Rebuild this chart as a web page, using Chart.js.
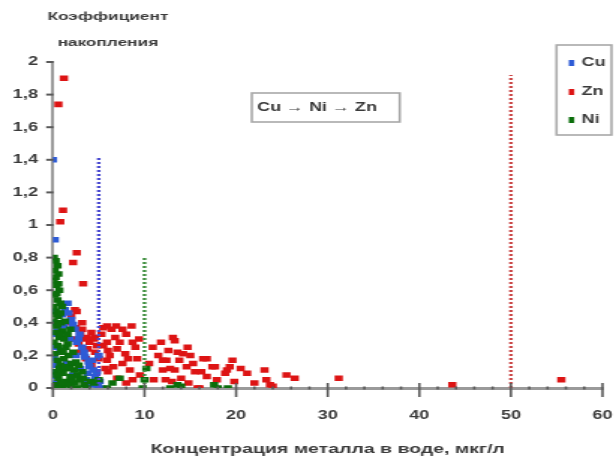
<!DOCTYPE html>
<html><head><meta charset="utf-8">
<script src="https://cdn.jsdelivr.net/npm/chart.js@4/dist/chart.umd.min.js"></script>
<style>html,body{margin:0;padding:0;background:#fff;overflow:hidden}
canvas{display:block}</style>
</head><body>
<canvas id="c" width="411" height="461" style="width:616px;height:461px"></canvas>
<script>
// ---- data ----
const seriesNames = ['Cu', 'Zn', 'Ni'];
const seriesColors = ['#2d5bd6', '#dd1414', '#0b6e0b'];

const cuX = [0.0,0.2,1.6,1.3,2.0,2.4,2.8,3.2,3.5,4.0,4.6,4.9,5.1,4.8,0.1,0.1,0.2,0.1,0.2,0.1,0.3,1.0,1.8,2.5,3.0,3.6,2.2,1.5,0.5,0.8,4.3,3.8,1.2,2.6,5.3,
  1.7,2.2,2.9,3.4,3.9,4.4,4.1,0.2,0.1,0.3,5.0];
const cuY = [1.40,0.91,0.52,0.48,0.42,0.36,0.30,0.25,0.19,0.13,0.07,0.01,0.04,0.10,0.40,0.33,0.25,0.18,0.10,0.03,0.00,0.45,0.30,0.20,0.12,0.05,0.08,0.15,0.35,0.22,0.17,0.09,0.38,0.28,0.00,
  0.46,0.39,0.33,0.22,0.16,0.11,0.02,0.47,0.14,0.07,0.20];

const znX = [1.2,0.6,1.1,0.8,2.6,2.2,3.3,2.4,2.0,1.8,2.5,3.0,3.5,4.0,4.5,2.8,3.8,4.6,5.0,4.2,3.2,2.6,3.2,3.7,4.6,5.5,6.0,5.9,6.4,5.5,
  5.9,7.6,8.6,8.0,5.9,7.3,8.7,6.2,7.9,6.6,8.4,8.7,9.2,9.5,7.0,6.0,9.0,
  10.9,13.1,13.3,14.7,12.4,13.8,12.0,13.3,14.6,16.8,16.8,16.0,12.8,12.0,11.5,10.5,11.0,15.5,14.0,13.0,16.4,17.4,17.7,15.8,18.8,19.0,19.6,19.3,21.2,23.1,23.3,23.7,25.5,26.4,24.0,31.2,43.6,55.5,14.2,12.6,
  3.0,3.6,4.2,2.4,4.8,5.3,6.8,7.0,7.6,8.2,6.9,5.7,8.0,9.4,11.8,13.6,15.0,15.3,16.2,14.8,12.3,17.9,19.8,20.5,22.0];
const znY = [1.90,1.74,1.09,1.02,0.83,0.77,0.64,0.48,0.44,0.40,0.37,0.33,0.30,0.28,0.30,0.27,0.24,0.22,0.18,0.34,0.40,0.47,0.36,0.31,0.31,0.26,0.23,0.17,0.36,0.37,
  0.38,0.36,0.38,0.33,0.28,0.28,0.28,0.20,0.21,0.13,0.11,0.05,0.18,0.08,0.06,0.10,0.25,
  0.25,0.31,0.29,0.25,0.17,0.17,0.11,0.11,0.13,0.18,0.07,0.00,0.12,0.17,0.20,0.15,0.05,0.10,0.06,0.04,0.18,0.13,0.13,0.00,0.09,0.11,0.17,0.13,0.09,0.11,0.05,0.02,0.08,0.06,0.01,0.06,0.02,0.05,0.21,0.23,
  0.22,0.18,0.14,0.30,0.26,0.33,0.31,0.24,0.15,0.18,0.38,0.12,0.03,0.30,0.28,0.22,0.20,0.15,0.10,0.03,0.05,0.05,0.04,0.12,0.03];

const niX = [0.1,0.3,0.5,0.2,0.6,0.1,0.4,0.7,0.2,0.5,0.1,0.8,0.3,0.6,0.1,0.9,0.4,1.0,0.2,0.7,1.2,0.1,0.5,1.4,0.9,0.2,1.7,1.2,0.5,2.0,0.8,1.5,2.3,0.3,1.1,2.7,1.9,0.6,3.0,1.4,2.4,0.2,3.4,1.0,2.0,3.7,0.5,1.6,1.0,0.4,2.5,1.8,3.2,
  0.3,0.6,0.2,0.8,1.3,0.5,1.6,1.1,2.2,0.7,2.8,3.3,1.7,2.6,4.1,0.9,1.3,2.1,0.4,0.8,1.9,
  5.9,7.3,9.8,10.2,10.0,13.6,14.0,17.6,18.0,19.1,6.5,4.5,5.0,12.8];
const niY = [0.80,0.78,0.75,0.72,0.70,0.66,0.63,0.60,0.57,0.54,0.50,0.52,0.47,0.44,0.41,0.40,0.38,0.35,0.34,0.31,0.30,0.28,0.26,0.25,0.23,0.21,0.20,0.18,0.17,0.15,0.14,0.12,0.11,0.10,0.09,0.08,0.07,0.06,0.05,0.04,0.03,0.02,0.02,0.01,0.00,0.00,0.00,0.33,0.50,0.58,0.16,0.12,0.10,
  0.68,0.64,0.45,0.46,0.41,0.39,0.27,0.22,0.22,0.12,0.14,0.06,0.02,0.00,0.04,0.03,0.13,0.05,0.08,0.33,0.36,
  0.00,0.06,0.00,0.12,0.05,0.02,0.01,0.02,0.00,0.00,0.03,0.03,0.05,0.00];

// vertical reference lines (dotted): x position and top value
const refLineX = [5, 10, 50];
const refLineTop = [1.42, 0.80, 1.92];
const refLineColors = ['#4a4ad0', '#3e8e3e', '#cc4a4a'];

const xTickValues = [0, 10, 20, 30, 40, 50, 60];
const yTickValues = [0, 0.2, 0.4, 0.6, 0.8, 1, 1.2, 1.4, 1.6, 1.8, 2];

const xTitle = 'Концентрация металла в воде, мкг/л';
const yTitleLines = ['Коэффициент', 'накопления'];
const noteText = 'Cu \u2192 Ni \u2192 Zn';

// ---- build ----
const pts = (xs, ys) => xs.map((x, i) => ({x: x, y: ys[i]}));
const FAMILY = '"Liberation Sans", Arial, sans-serif';
const FONT = 'bold 12px ' + FAMILY;
const TXT = '#3a3a3a';

const datasets = [
  {label: 'Cu', data: pts(cuX, cuY), order: 1},
  {label: 'Zn', data: pts(znX, znY), order: 2},
  {label: 'Ni', data: pts(niX, niY), order: 0}
].map((d, i) => Object.assign(d, {
  backgroundColor: seriesColors[i], borderColor: seriesColors[i],
  pointStyle: 'rect', pointRadius: 3.9, pointHoverRadius: 3.9, borderWidth: 0, showLine: false
}));

refLineX.forEach((x, i) => {
  datasets.push({
    type: 'line', label: '_ref' + i, data: [{x: x, y: 0}, {x: x, y: refLineTop[i]}],
    borderColor: refLineColors[i], borderWidth: 2.4, borderDash: [2, 2],
    pointRadius: 0, fill: false, order: -1
  });
});

const deco = {
  id: 'deco',
  afterDraw(chart) {
    const ctx = chart.ctx, xs = chart.scales.x, ys = chart.scales.y;
    const ca = chart.chartArea;
    ctx.save();
    // x ticks: major and minor
    ctx.fillStyle = '#5a5a5a';
    for (let v = 0; v <= 60; v += 2) {
      const px = xs.getPixelForValue(v);
      if (v % 10 === 0) ctx.fillRect(px - 0.8, ca.bottom - 5, 1.6, 14);
      else ctx.fillRect(px - 0.8, ca.bottom - 1.5, 1.6, 3);
    }
    // y ticks
    yTickValues.forEach(v => {
      const py = ys.getPixelForValue(v);
      ctx.fillRect(ca.left - 4.5, py - 1, 5, 2);
    });
    // titles
    ctx.fillStyle = TXT;
    ctx.textAlign = 'center';
    ctx.textBaseline = 'middle';
    ctx.font = 'bold 13px ' + FAMILY;
    ctx.fillText(xTitle, (ca.left + ca.right) / 2, 449);
    ctx.font = 'bold 11.5px ' + FAMILY;
    ctx.fillText(yTitleLines[0], 72, 17);
    ctx.fillText(yTitleLines[1], 72, 43);
    // note box
    ctx.font = FONT;
    ctx.strokeStyle = '#a8a8a8';
    ctx.lineWidth = 1.6;
    ctx.fillStyle = '#fff';
    ctx.fillRect(168, 93, 98.7, 29);
    ctx.strokeRect(168, 93, 98.7, 29);
    ctx.fillStyle = TXT;
    ctx.textAlign = 'left';
    ctx.fillText(noteText, 171.5, 107.5);
    // legend
    ctx.fillStyle = '#fff';
    ctx.fillRect(371.3, 45, 36.7, 90);
    ctx.strokeRect(371.3, 45, 36.7, 90);
    const ly = [63, 92, 120];
    seriesNames.forEach((n, i) => {
      ctx.fillStyle = seriesColors[i];
      ctx.fillRect(379.5, ly[i] - 3, 3.6, 6);
      ctx.fillStyle = TXT;
      ctx.fillText(n, 388, ly[i]);
    });
    ctx.restore();
  }
};

new Chart(document.getElementById('c'), {
  type: 'scatter',
  data: {datasets: datasets},
  plugins: [deco],
  options: {
    responsive: false,
    animation: false,
    devicePixelRatio: 1,
    layout: {padding: {left: 0, right: 9, top: 62, bottom: 0}},
    plugins: {legend: {display: false}, tooltip: {enabled: false}},
    scales: {
      x: {
        type: 'linear', min: 0, max: 60,
        afterBuildTicks: s => { s.ticks = xTickValues.map(v => ({value: v})); },
        afterFit: s => { s.height = 73; s.paddingLeft = 0; s.paddingRight = 0; },
        grid: {display: false, drawTicks: false, tickLength: 0},
        border: {display: true, color: '#9a9a9a', width: 3},
        ticks: {padding: 20, color: TXT, font: {family: FAMILY, size: 12, weight: 'bold'}, maxRotation: 0}
      },
      y: {
        type: 'linear', min: 0, max: 2,
        afterBuildTicks: s => { s.ticks = yTickValues.map(v => ({value: v})); },
        afterFit: s => { s.width = 35.3; s.paddingTop = 0; s.paddingBottom = 0; },
        grid: {display: false, drawTicks: false, tickLength: 0},
        border: {display: true, color: '#9a9a9a', width: 2},
        ticks: {padding: 10, color: TXT, font: {family: FAMILY, size: 12, weight: 'bold'},
          callback: v => String(Math.round(v * 10) / 10).replace('.', ',')}
      }
    }
  }
});
</script>
</body></html>
